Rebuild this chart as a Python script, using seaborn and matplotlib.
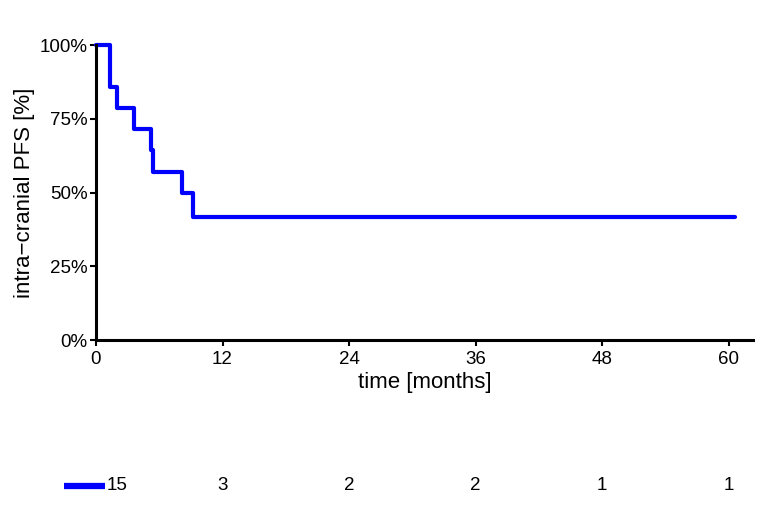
import matplotlib
matplotlib.use("Agg")
import matplotlib.pyplot as plt
import matplotlib.transforms as mtransforms
import seaborn as sns
import pandas as pd

# Kaplan-Meier steps
times = [0, 1.3, 2.0, 3.6, 5.2, 5.4, 8.2, 9.2, 60.6]
surv = [100, 85.7, 78.6, 71.4, 64.3, 57.1, 50.0, 41.7, 41.7]

# numbers at risk
risk_times = [0, 12, 24, 36, 48, 60]
at_risk = [15, 3, 2, 2, 1, 1]

x_ticks = [0, 12, 24, 36, 48, 60]
y_ticks = [0, 25, 50, 75, 100]
y_labels = ['0%', '25%', '50%', '75%', '100%']

df = pd.DataFrame({'time': times, 'surv': surv})

sns.set_style('white')
plt.rcParams['font.family'] = ['Liberation Sans', 'DejaVu Sans']
plt.rcParams['text.color'] = 'black'
plt.rcParams['axes.labelcolor'] = 'black'

fig = plt.figure(figsize=(7.79, 5.18), dpi=100)
ax = fig.add_axes([0.1232, 0.3436, 0.8434, 0.5695])

sns.lineplot(data=df, x='time', y='surv', ax=ax, color='#0000ff', lw=3,
             drawstyle='steps-post', clip_on=False)

ax.set_xlim(0, 62.3)
ax.set_ylim(0, 100)
ax.set_xticks(x_ticks)
ax.set_yticks(y_ticks)
ax.set_yticklabels(y_labels)
ax.tick_params(axis='both', direction='out', length=4, width=1.5, labelsize=13.5,
               colors='black', left=True, bottom=True)
ax.tick_params(axis='x', pad=4)
ax.tick_params(axis='y', pad=2)
for s in ['top', 'right']:
    ax.spines[s].set_visible(False)
for s in ['left', 'bottom']:
    ax.spines[s].set_linewidth(2.2)
    ax.spines[s].set_color('black')
ax.set_xlabel('time [months]', fontsize=16, labelpad=3)
ax.set_ylabel('intra\u2212cranial PFS [%]', fontsize=16, labelpad=3)

# risk table
ax2 = fig.add_axes([0.1232, 0.04, 0.8434, 0.05], sharex=ax)
ax2.set_ylim(0, 1)
ax2.axis('off')
for i, (t, n) in enumerate(zip(risk_times, at_risk)):
    if i == 0:
        off = mtransforms.offset_copy(ax2.transData, fig=fig, x=15, y=0, units='points')
        ax2.text(t, 0.45, str(n), ha='center', va='center', fontsize=13.5, transform=off)
    else:
        ax2.text(t, 0.45, str(n), ha='center', va='center', fontsize=13.5)
ax2.plot([-3.0, 0.85], [0.45, 0.45], color='#0000ff', lw=4.5, clip_on=False,
         solid_capstyle='butt')

fig.savefig('out.png', dpi=100)
